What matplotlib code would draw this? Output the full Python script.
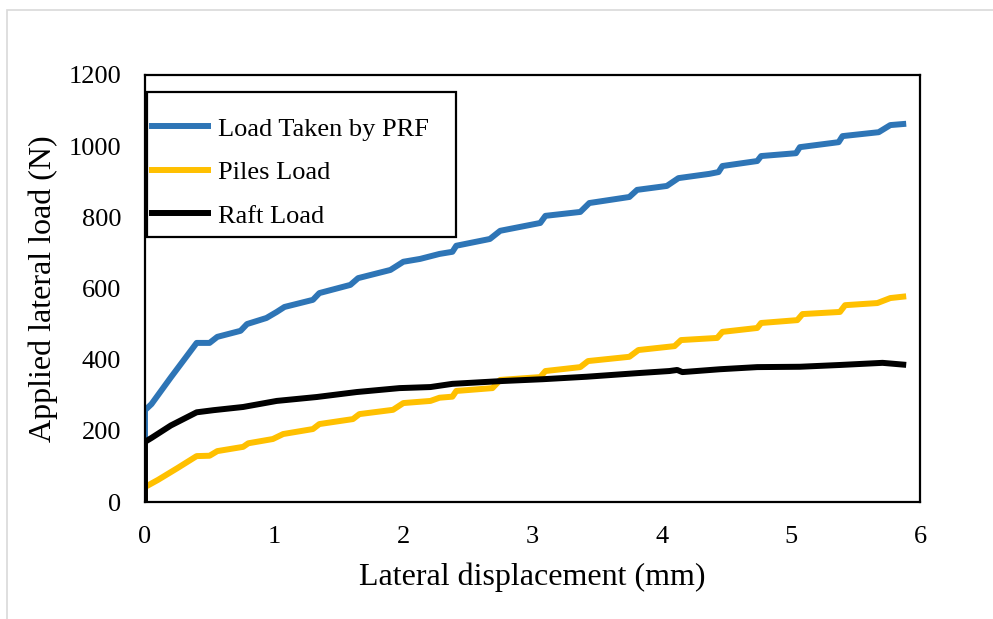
import matplotlib
matplotlib.use("Agg")
import matplotlib.pyplot as plt
from matplotlib.patches import Rectangle

plt.rcParams['font.family'] = ['Liberation Serif', 'DejaVu Serif']

# lateral load test: total load and how it splits between piles and raft
prf_disp = [0, 0, 0.05, 0.2, 0.40, 0.50, 0.56, 0.74, 0.79, 0.94, 1.02, 1.08, 1.30, 1.35,
            1.59, 1.65, 1.90, 2.00, 2.13, 2.28, 2.38, 2.41, 2.67, 2.75, 3.06, 3.10, 3.37,
            3.44, 3.75, 3.81, 4.04, 4.13, 4.37, 4.44, 4.47, 4.74, 4.77, 5.04, 5.07, 5.37,
            5.40, 5.68, 5.77, 5.87]
prf_load = [180, 258, 275, 350, 447, 447, 464, 481, 500, 517, 534, 548, 568, 587,
            610, 629, 652, 675, 683, 697, 703, 720, 739, 762, 784, 804, 815,
            840, 857, 877, 888, 910, 922, 927, 944, 958, 972, 980, 997, 1011,
            1028, 1039, 1059, 1062]

piles_disp = [0, 0, 0.1, 0.25, 0.40, 0.50, 0.56, 0.76, 0.80, 0.99, 1.07, 1.30, 1.35, 1.61,
              1.66, 1.92, 2.00, 2.21, 2.28, 2.38, 2.41, 2.69, 2.75, 3.06, 3.10, 3.37, 3.43,
              3.75, 3.82, 4.10, 4.15, 4.43, 4.47, 4.74, 4.77, 5.05, 5.09, 5.38, 5.42, 5.67,
              5.77, 5.87]
piles_load = [0, 42, 62, 95, 129, 130, 143, 155, 165, 177, 191, 205, 219, 233,
              247, 259, 278, 284, 293, 296, 312, 320, 343, 351, 368, 379, 396,
              408, 427, 438, 455, 461, 478, 489, 503, 511, 528, 534, 553, 559,
              573, 577]

raft_disp = [0, 0, 0.05, 0.20, 0.40, 0.53, 0.76, 1.02, 1.33, 1.64, 1.97, 2.21, 2.38, 2.77,
             3.08, 3.42, 3.81, 4.06, 4.12, 4.16, 4.45, 4.74, 5.07, 5.38, 5.71, 5.87]
raft_load = [0, 169, 180, 215, 252, 258, 267, 284, 295, 309, 320, 323, 332, 340,
             345, 352, 362, 368, 371, 365, 373, 379, 380, 385, 391, 386]

x_ticks = [0, 1, 2, 3, 4, 5, 6]
y_ticks = [0, 200, 400, 600, 800, 1000, 1200]

fig = plt.figure(figsize=(9.93, 6.19), dpi=100)
fig.patches.append(Rectangle((0.007, -0.05), 1.1, 0.034 + 1.0, transform=fig.transFigure,
                             fill=False, edgecolor='#d9d9d9', linewidth=1.2))
ax = fig.add_axes([0.146, 0.189, 0.7805, 0.690])

ax.plot(prf_disp, prf_load, color='#2e75b6', lw=4.3, label='Load Taken by PRF')
ax.plot(piles_disp, piles_load, color='#ffc000', lw=4.3, label='Piles Load')
ax.plot(raft_disp, raft_load, color='black', lw=4.3, label='Raft Load')

ax.set_xlim(0, 6)
ax.set_ylim(0, 1200)
ax.set_xticks(x_ticks)
ax.set_yticks(y_ticks)
ax.tick_params(length=0, labelsize=19)
ax.tick_params(axis='x', pad=17)
ax.tick_params(axis='y', pad=17)
for s in ax.spines.values():
    s.set_linewidth(1.6)
    s.set_color('black')

ax.set_xlabel('Lateral displacement (mm)', fontsize=23, labelpad=11)
ax.set_ylabel('Applied lateral load (N)', fontsize=23, labelpad=8)

# legend entries without frame, box drawn separately
leg = ax.legend(loc='upper left', bbox_to_anchor=(0.009, 0.901), borderaxespad=0,
                fontsize=19, frameon=False, handlelength=2.12,
                handletextpad=0.38, labelspacing=0.76, borderpad=0)
for h in leg.get_lines():
    h.set_linewidth(4.3)
ax.add_patch(Rectangle((0.0026, 0.621), 0.3985, 0.339, transform=ax.transAxes,
                       fill=False, edgecolor='black', linewidth=1.6, zorder=5))

fig.savefig('out.png', dpi=100)
